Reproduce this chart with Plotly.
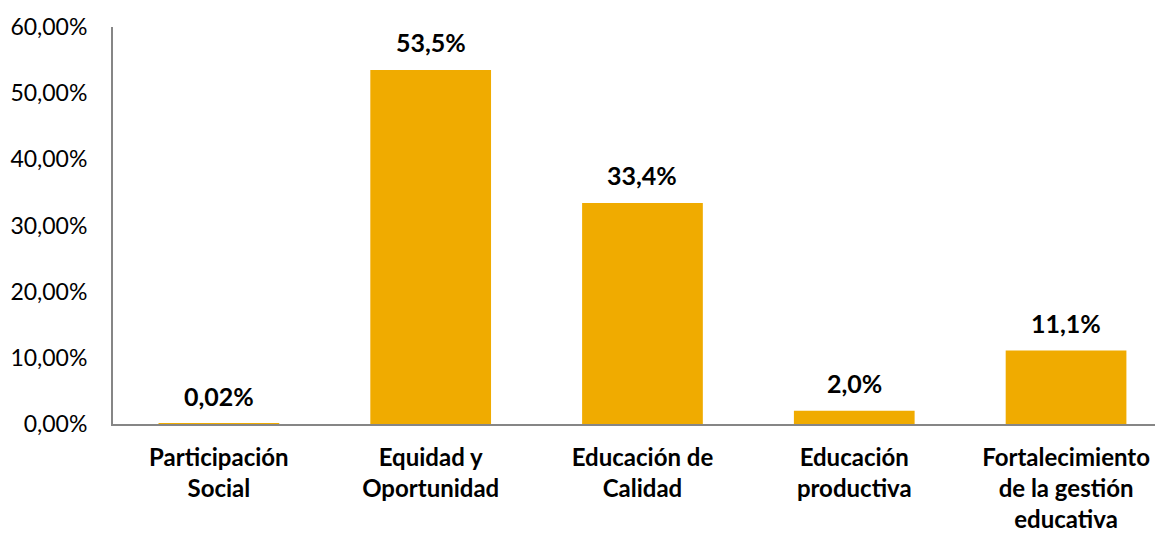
import plotly.graph_objects as go

categories = ["Participación<br>Social", "Equidad y<br>Oportunidad", "Educación de<br>Calidad",
              "Educación<br>productiva", "Fortalecimiento<br>de la gestión<br>educativa"]
values = [0.02, 53.5, 33.4, 2.0, 11.1]
value_labels = ["0,02%", "53,5%", "33,4%", "2,0%", "11,1%"]
y_ticks = [0, 10, 20, 30, 40, 50, 60]
y_tick_labels = ["0,00%", "10,00%", "20,00%", "30,00%", "40,00%", "50,00%", "60,00%"]

FONT = "Lato"
fig = go.Figure()
fig.add_trace(go.Bar(
    x=categories, y=values, marker=dict(color="#F0AB00", line=dict(width=0)),
    width=0.57, hoverinfo="skip",
))
for c, v, t in zip(categories, values, value_labels):
    fig.add_annotation(x=c, y=v, text=f"<b>{t}</b>", showarrow=False,
                       yanchor="bottom", yshift=11,
                       font=dict(family=FONT, size=25, color="black"))

fig.update_layout(
    width=1155, height=535,
    margin=dict(l=113, r=0, t=27, b=111),
    plot_bgcolor="white", paper_bgcolor="white",
    showlegend=False,
    font=dict(family=FONT, size=23, color="black"),
)
fig.update_xaxes(
    range=[-0.5, 4.42], showline=True, linecolor="#868686", linewidth=2,
    ticks="", showgrid=False, tickfont=dict(family=FONT, size=24, color="black"),
    ticklabelstandoff=11, automargin=False,
    tickmode="array", tickvals=categories,
    ticktext=[f"<b>{c}</b>" for c in categories],
)
fig.update_yaxes(
    range=[0, 60], tickmode="array", tickvals=y_ticks, ticktext=y_tick_labels,
    showline=True, linecolor="#868686", linewidth=2, showgrid=False, zeroline=False,
    ticks="", tickfont=dict(family=FONT, size=23, color="black"),
    ticklabelstandoff=19, automargin=False,
)
fig.write_html("out.html", config={"displayModeBar": False},
               post_script="document.body.style.margin='0';")
